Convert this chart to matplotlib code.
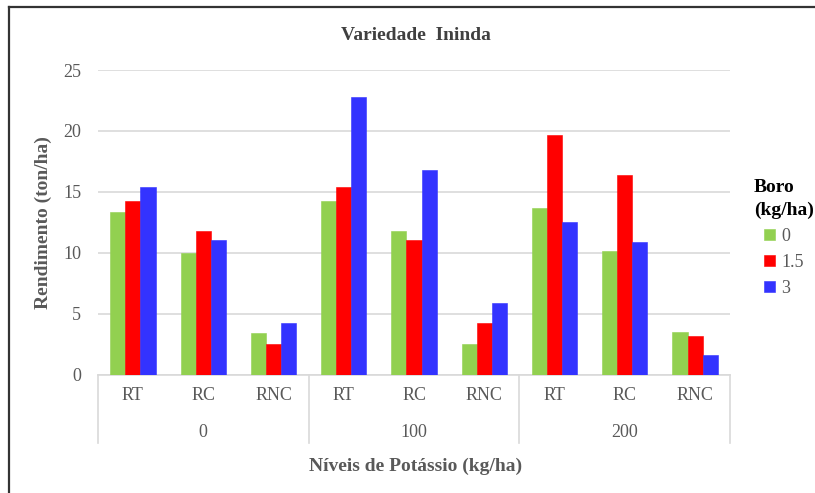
import numpy as np
import matplotlib.pyplot as plt
from matplotlib.lines import Line2D

plt.rcParams['font.family'] = ['Liberation Serif', 'DejaVu Serif']

groups = ["0", "100", "200"]
cats = ["RT", "RC", "RNC"]
series = ["0", "1.5", "3"]
boro_0 = [13.4, 10.0, 3.4, 14.3, 11.8, 2.5, 13.7, 10.2, 3.5]
boro_15 = [14.3, 11.8, 2.5, 15.4, 11.1, 4.3, 19.7, 16.4, 3.2]
boro_3 = [15.4, 11.1, 4.3, 22.8, 16.8, 5.9, 12.5, 10.9, 1.6]
colors = ["#92D050", "#FF0000", "#3333FF"]

txt = "#595959"

fig = plt.figure(figsize=(8.15, 4.93), dpi=100)
ax = fig.add_axes([0.120, 0.2394, 0.776, 0.6186])

x = np.arange(9)
w = 0.215
for i, (vals, c, lab) in enumerate(zip([boro_0, boro_15, boro_3], colors, series)):
    ax.bar(x + (i - 1) * w, vals, w, color=c, label=lab, zorder=3,
           edgecolor=c, linewidth=0.4)

ax.set_xlim(-0.5, 8.5)
ax.set_ylim(0, 25)
ax.set_yticks(range(0, 26, 5))
ax.grid(axis="y", color="#D9D9D9", linewidth=1.2, zorder=0)
for s in ["top", "right", "left"]:
    ax.spines[s].set_visible(False)
ax.spines["bottom"].set_color("#D9D9D9")
ax.spines["bottom"].set_linewidth(1.2)
ax.tick_params(axis="y", length=0, labelsize=13, labelcolor=txt, pad=12)
ax.tick_params(axis="x", length=0)
ax.set_xticks(x)
ax.set_xticklabels(cats * 3, fontsize=13, color=txt)
ax.tick_params(axis="x", pad=9)

# group labels and separators
for g, name in enumerate(groups):
    ax.text(g * 3 + 1, -0.188, name, transform=ax.get_xaxis_transform(),
            ha="center", va="center", fontsize=13, color=txt)
for b in range(4):
    ax.add_line(Line2D([b * 3 - 0.5] * 2, [0, -0.222],
                       transform=ax.get_xaxis_transform(), color="#D9D9D9",
                       linewidth=1.2, clip_on=False))

ax.set_ylabel("Rendimento (ton/ha)", fontsize=14, fontweight="bold",
              color=txt, labelpad=8)
fig.text(0.51, 0.055, "Níveis de Potássio (kg/ha)", ha="center", va="center",
         fontsize=14, fontweight="bold", color=txt)
fig.text(0.51, 0.927, "Variedade  Ininda", ha="center", va="center",
         fontsize=14, fontweight="bold", color="#404040")

leg = ax.legend(title="Boro\n(kg/ha)", loc="center left",
                bbox_to_anchor=(1.012, 0.45), frameon=False, fontsize=13,
                handlelength=0.6, handleheight=0.6, handletextpad=0.35,
                labelspacing=0.5, labelcolor=txt)
leg.get_title().set_fontweight("bold")
leg.get_title().set_fontsize(14)
leg.get_title().set_linespacing(1.45)
leg._legend_box.align = "center"

# frame: only left and top edges are visible in the source image
fig.add_artist(Line2D([0.0105, 0.0105], [0.0, 0.986], transform=fig.transFigure,
                      color="#333333", linewidth=1.6))
fig.add_artist(Line2D([0.0105, 1.0], [0.986, 0.986], transform=fig.transFigure,
                      color="#333333", linewidth=1.6))

fig.savefig("out.png", dpi=100)
